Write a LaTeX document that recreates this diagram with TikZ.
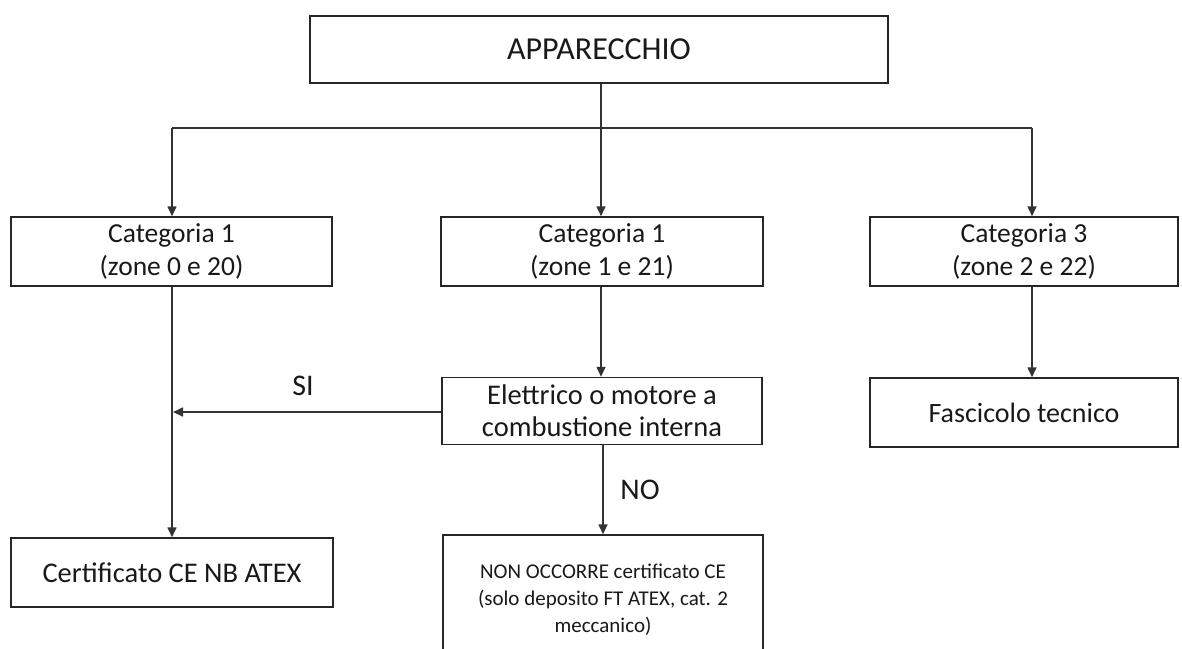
\documentclass[tikz,border=0pt]{standalone}
\usepackage{fontspec}
\setmainfont{Carlito}
\usetikzlibrary{arrows.meta}
\begin{document}
\begin{tikzpicture}[x=1pt,y=-1pt,
  box/.style={draw=black!85,line width=1.5pt,rectangle,inner sep=0pt,align=center,text=black!90},
  conn/.style={draw=black!80,line width=1.6pt},
  arr/.style={conn,-{Triangle[length=10pt,width=9pt]}},
  lbl/.style={font=\fontsize{30}{34}\selectfont,text=black!90}]
\useasboundingbox (0,0) rectangle (1182,648);
\fill[white] (0,0) rectangle (1182,648);
\node[box,minimum width=578pt,minimum height=67pt,font=\fontsize{32}{36}\selectfont] (app) at (599,49.5) {APPARECCHIO};
\node[box,minimum width=321pt,minimum height=69pt,font=\fontsize{27.5}{33}\selectfont] (c1) at (171.5,251.5) {Categoria 1\\(zone 0 e 20)};
\node[box,minimum width=322pt,minimum height=69pt,font=\fontsize{27.5}{33}\selectfont] (c2) at (602,251.5) {Categoria 1\\(zone 1 e 21)};
\node[box,minimum width=308pt,minimum height=69pt,font=\fontsize{27.5}{33}\selectfont] (c3) at (1024,251.5) {Categoria 3\\(zone 2 e 22)};
\node[box,minimum width=320pt,minimum height=67pt,font=\fontsize{28.5}{32}\selectfont] (el) at (602,411) {Elettrico o motore a\\combustione interna};
\node[box,minimum width=308pt,minimum height=69pt,font=\fontsize{28}{32}\selectfont] (fa) at (1024,412.5) {Fascicolo tecnico};
\node[box,minimum width=322pt,minimum height=69pt,font=\fontsize{28.5}{32}\selectfont] (ce) at (172,572.5) {Certificato CE NB ATEX};
\node[box,minimum width=320pt,minimum height=130pt,font=\fontsize{21}{27}\selectfont] (non) at (603,600) {NON OCCORRE certificato CE\\(solo deposito FT ATEX, cat. 2\\meccanico)};
\coordinate (top) at (601,128);
\coordinate (b1) at (172,128);
\coordinate (b2) at (601,128);
\coordinate (b3) at (1032,128);
\coordinate (si) at (173,412);
\draw[conn] (app.south -| top) -- (top);
\draw[conn] (b1) -- (b3);
\draw[arr] (b1) -- (b1 |- c1.north);
\draw[arr] (b2) -- (b2 |- c2.north);
\draw[arr] (b3) -- (b3 |- c3.north);
\draw[arr] (c1.south -| b1) -- (ce.north -| b1);
\draw[arr] (c2.south -| b2) -- (el.north -| b2);
\draw[arr] (el.west |- si) -- (si);
\draw[arr] (el.south -| non.north) -- (non.north);
\draw[arr] (c3.south -| b3) -- (fa.north -| b3);
\node[lbl] (silbl) at (303,386) {SI};
\node[lbl] (nolbl) at (640,490) {NO};
\end{tikzpicture}
\end{document}
